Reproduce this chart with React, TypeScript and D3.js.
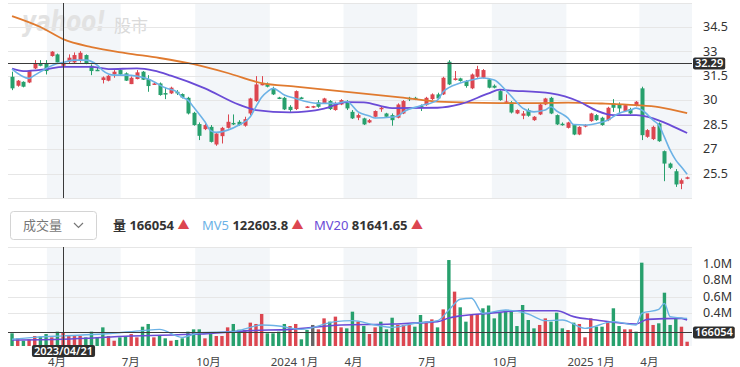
import React, { useEffect, useRef } from "react";
import * as d3 from "d3";

// weekly candles, first week 2023-02-17
const firstWeek = "2023-02-17";
const opens = [
  31.43, 30.88, 31.12, 31.08, 31.94, 32.25, 32.25, 32.7, 32.8, 32.1,
  32.35, 32.31, 32.4, 32.76, 32.1, 31.86, 31.23, 31.19, 31.57, 31.84,
  31.64, 30.98, 31.29, 31.74, 31.29, 31.0, 31.02, 30.43, 30.41, 30.51,
  30.37, 30.14, 29.22, 28.53, 28.22, 28.36, 27.28, 27.79, 28.3, 28.6,
  28.67, 28.43, 29.18, 29.94, 30.96, 31.0, 30.72, 30.16, 30.14, 29.59,
  29.45, 30.16, 29.57, 29.57, 29.86, 29.8, 29.94, 29.39, 29.73, 29.9,
  29.28, 28.92, 28.88, 28.63, 28.98, 29.45, 29.18, 29.08, 28.92, 29.18,
  30.14, 30.14, 29.63, 29.69, 30.06, 30.35, 30.35, 32.35, 31.23, 31.33,
  31.17, 30.72, 31.43, 31.37, 31.27, 30.88, 30.55, 29.88, 29.86, 29.18,
  29.04, 29.39, 28.77, 29.12, 29.73, 30.14, 29.08, 28.55, 28.3, 28.47,
  27.89, 28.38, 28.71, 29.08, 28.92, 28.77, 29.8, 29.73, 29.33, 29.45,
  29.65, 30.72, 27.75, 27.61, 28.57, 26.87, 26.11, 25.64, 24.87, 25.19,
];
const highs = [
  31.74, 31.23, 31.15, 31.84, 32.45, 32.45, 32.45, 33.0, 32.85, 32.4,
  32.8, 32.92, 33.0, 32.8, 32.19, 32.0, 31.45, 31.53, 31.84, 31.9,
  31.7, 31.45, 31.84, 31.78, 31.53, 31.08, 31.08, 30.76, 30.82, 30.61,
  30.41, 30.2, 29.28, 28.63, 28.57, 28.47, 28.02, 28.36, 29.12, 29.12,
  28.77, 28.98, 30.14, 31.47, 31.47, 31.08, 30.82, 30.2, 30.2, 29.69,
  30.59, 30.2, 29.63, 29.65, 30.0, 30.14, 30.0, 29.9, 30.06, 30.0,
  29.39, 29.18, 28.92, 28.84, 29.37, 29.63, 29.22, 29.18, 29.8, 30.0,
  30.2, 30.2, 29.73, 30.2, 30.41, 30.45, 31.43, 32.45, 31.78, 31.37,
  31.23, 31.63, 32.1, 31.9, 31.33, 30.96, 30.61, 30.35, 29.94, 29.43,
  29.33, 29.49, 29.02, 29.8, 30.14, 30.2, 29.12, 28.63, 28.67, 28.51,
  28.4, 28.53, 29.22, 29.14, 28.98, 29.59, 30.06, 29.86, 29.73, 29.53,
  29.94, 30.82, 28.22, 28.43, 28.63, 26.91, 26.17, 25.77, 25.19, 25.31,
];
const lows = [
  30.61, 30.82, 30.78, 31.04, 31.9, 32.07, 31.57, 32.66, 32.31, 31.7,
  32.25, 32.25, 32.3, 32.2, 31.53, 31.78, 31.02, 31.15, 31.37, 31.53,
  31.17, 30.98, 31.27, 31.23, 30.51, 30.96, 30.27, 30.06, 30.37, 30.31,
  30.1, 29.12, 28.43, 27.55, 28.16, 27.4, 27.2, 27.34, 28.26, 28.47,
  28.43, 28.37, 29.08, 29.9, 30.9, 30.78, 30.31, 30.06, 29.39, 29.28,
  29.39, 30.1, 29.51, 29.51, 29.53, 29.76, 29.39, 29.35, 29.69, 29.39,
  28.84, 28.77, 28.47, 28.59, 28.94, 29.28, 28.94, 28.43, 28.88, 29.14,
  29.94, 30.0, 29.33, 29.65, 30.0, 30.06, 30.31, 30.92, 31.2, 31.13,
  30.76, 30.67, 31.37, 31.33, 30.72, 30.72, 29.96, 29.82, 29.18, 29.14,
  28.83, 28.98, 28.73, 29.08, 29.69, 29.14, 28.47, 28.43, 28.26, 27.85,
  27.85, 28.33, 28.67, 28.73, 28.43, 28.71, 29.28, 29.18, 29.28, 29.14,
  29.61, 27.55, 27.69, 27.55, 27.44, 25.03, 25.77, 24.68, 24.54, 25.15,
];
const closes = [
  30.72, 31.19, 30.82, 31.78, 32.25, 32.1, 31.78, 32.97, 32.31, 32.29,
  32.6, 32.76, 32.9, 32.25, 31.78, 31.8, 31.39, 31.49, 31.74, 31.57,
  31.19, 31.37, 31.7, 31.25, 30.86, 31.02, 30.31, 30.39, 30.76, 30.41,
  30.16, 29.18, 28.47, 27.81, 28.47, 27.44, 27.95, 28.3, 28.67, 28.55,
  28.47, 28.83, 30.1, 30.96, 31.0, 30.82, 30.35, 30.1, 29.43, 29.39,
  30.55, 30.1, 29.61, 29.63, 29.59, 30.1, 29.45, 29.8, 30.0, 29.49,
  28.88, 29.08, 28.51, 28.77, 29.33, 29.53, 28.98, 28.77, 29.73, 29.94,
  30.06, 30.06, 29.55, 30.14, 30.35, 30.1, 31.37, 30.96, 31.33, 31.17,
  30.86, 31.57, 31.9, 31.84, 30.76, 30.76, 30.0, 29.92, 29.24, 29.39,
  29.18, 29.04, 28.98, 29.73, 30.1, 29.18, 28.51, 28.47, 28.63, 27.89,
  28.36, 28.47, 29.18, 28.77, 28.47, 29.53, 29.53, 29.49, 29.69, 29.18,
  29.9, 27.85, 28.16, 28.36, 27.48, 26.11, 25.85, 24.83, 25.09, 25.27,
];

// weekly volume, millions of shares
const volumes = [
  0.154, 0.093, 0.064, 0.081, 0.121, 0.113, 0.145, 0.105, 0.174, 0.166,
  0.121, 0.121, 0.121, 0.105, 0.174, 0.105, 0.226, 0.121, 0.064, 0.105,
  0.121, 0.145, 0.105, 0.234, 0.267, 0.105, 0.121, 0.093, 0.064, 0.073,
  0.093, 0.174, 0.202, 0.202, 0.093, 0.154, 0.121, 0.121, 0.226, 0.267,
  0.198, 0.194, 0.283, 0.267, 0.388, 0.154, 0.154, 0.174, 0.267, 0.242,
  0.267, 0.081, 0.194, 0.255, 0.202, 0.335, 0.295, 0.356, 0.226, 0.214,
  0.416, 0.295, 0.242, 0.145, 0.226, 0.295, 0.202, 0.343, 0.255, 0.255,
  0.255, 0.234, 0.376, 0.295, 0.323, 0.226, 0.444, 1.042, 0.659, 0.469,
  0.295, 0.376, 0.388, 0.457, 0.491, 0.335, 0.404, 0.428, 0.424, 0.242,
  0.497, 0.315, 0.214, 0.255, 0.335, 0.295, 0.404, 0.214, 0.194, 0.283,
  0.267, 0.105, 0.335, 0.234, 0.234, 0.295, 0.457, 0.242, 0.202, 0.202,
  0.174, 1.01, 0.396, 0.255, 0.275, 0.646, 0.255, 0.335, 0.234, 0.052,
];
// R = up, G = down, N = unchanged
const volDir = (
  "GRGRRGGRGR" + "RRRGGGGRRG" + "GRRGGRGGRG" + "GGGGRGRRRG" +
  "GRRRRGGGGR" + "RGGNRRGRRG" + "GRGRRGGGRR" + "RGGRRGRGRG" +
  "GRRGGGGGGG" + "GGGRRGGGRG" + "RRRGGRGGRR" + "GGRRGGGGRR"
).split("");

// moving averages (week index, value)
const ma5Idx = [0, 3, 4, 6, 8, 9, 11, 13, 15, 16, 18, 20, 22, 24, 25, 27, 29, 30, 31, 32, 34, 35, 36, 38, 40, 42, 43, 44, 45, 46, 48, 50, 52, 54, 57, 59, 61, 63, 64, 67, 68, 69, 72, 75, 76, 79, 81, 83, 85, 87, 89, 90, 92, 94, 95, 96, 97, 98, 99, 101, 103, 105, 107, 109, 110, 111, 113, 114, 115, 116, 117, 118, 119];
const ma5Val = [31.9, 31.33, 31.53, 31.94, 32.24, 32.31, 32.45, 32.45, 32.15, 31.81, 31.53, 31.53, 31.47, 31.29, 31.12, 30.75, 30.52, 30.18, 30.0, 29.57, 28.67, 28.13, 28.02, 28.16, 28.47, 28.98, 29.6, 30.18, 30.51, 30.72, 30.31, 30.1, 29.9, 29.8, 29.8, 29.91, 29.28, 29.02, 28.9, 28.96, 29.02, 29.28, 29.65, 30.0, 30.51, 31.04, 31.23, 31.35, 31.23, 30.61, 29.85, 29.51, 29.28, 29.39, 29.59, 29.33, 29.14, 28.9, 28.5, 28.47, 28.57, 28.77, 29.2, 29.39, 29.51, 29.39, 28.77, 28.47, 27.73, 26.93, 26.32, 25.9, 25.46];
const ma20Idx = [0, 2, 6, 9, 14, 17, 22, 25, 28, 34, 40, 43, 49, 55, 59, 62, 67, 75, 79, 84, 86, 87, 95, 100, 103, 106, 110, 113, 116, 119];
const ma20Val = [31.93, 31.78, 31.9, 32.04, 32.04, 31.9, 31.94, 31.81, 31.5, 30.72, 29.72, 29.39, 29.25, 29.48, 29.88, 29.86, 29.51, 29.53, 29.75, 30.41, 30.64, 30.61, 30.41, 29.9, 29.36, 29.08, 29.08, 28.88, 28.47, 27.98];
const ma60Idx = [0, 5, 9, 14, 20, 26, 32, 38, 44, 50, 56, 62, 68, 74, 80, 86, 92, 98, 104, 110, 114, 119];
const ma60Val = [35.15, 34.48, 33.74, 33.25, 32.88, 32.58, 32.2, 31.66, 31.04, 30.83, 30.61, 30.4, 30.18, 29.94, 29.85, 29.82, 29.82, 29.85, 29.79, 29.69, 29.57, 29.2];
const mv5Idx = [0, 4, 9, 16, 23, 26, 30, 33, 39, 42, 44, 47, 51, 57, 60, 64, 67, 71, 75, 77, 79, 81, 83, 87, 91, 94, 97, 101, 106, 110, 111, 114, 115, 116, 119];
const mv5Val = [0.081, 0.105, 0.123, 0.145, 0.186, 0.202, 0.105, 0.161, 0.174, 0.226, 0.255, 0.242, 0.202, 0.295, 0.307, 0.255, 0.226, 0.275, 0.307, 0.436, 0.566, 0.578, 0.396, 0.436, 0.388, 0.307, 0.315, 0.214, 0.295, 0.255, 0.396, 0.444, 0.517, 0.356, 0.335];
const mv20Idx = [0, 9, 21, 33, 42, 49, 58, 67, 75, 77, 79, 84, 90, 96, 99, 103, 110, 112, 118, 119];
const mv20Val = [0.073, 0.082, 0.121, 0.145, 0.186, 0.202, 0.255, 0.267, 0.295, 0.34, 0.365, 0.396, 0.428, 0.428, 0.356, 0.315, 0.267, 0.323, 0.335, 0.315];

const priceTicks = [34.5, 33, 31.5, 30, 28.5, 27, 25.5];
const volTicks = [0.4, 0.6, 0.8, 1.0];
const volTickLabels = ["0.4M", "0.6M", "0.8M", "1.0M"];
const monthTicks = ["2023-04-01", "2023-07-01", "2023-10-01", "2024-01-01", "2024-04-01", "2024-07-01", "2024-10-01", "2025-01-01", "2025-04-01"];
const monthLabels = ["4月", "7月", "10月", "2024 1月", "4月", "7月", "10月", "2025 1月", "4月"];
const shadedQuarters = [["2023-04-01", "2023-07-01"], ["2023-10-01", "2024-01-01"], ["2024-04-01", "2024-07-01"], ["2024-10-01", "2025-01-01"], ["2025-04-01", "2025-06-05"]];

const hoverIndex = 9;
const hoverDate = "2023/04/21";
const hoverPrice = 32.29;
const legendVol = "166054";
const legendMv5 = "122603.8";
const legendMv20 = "81641.65";

const RED = "#dc4650";
const GREEN = "#27a06d";
const BLUE = "#6cb2e6";
const PURPLE = "#6a4bd6";
const ORANGE = "#e07a2f";
const FONT = "'Noto Sans', 'Noto Sans CJK TC', sans-serif";

export default function App() {
  const svgRef = useRef(null);

  useEffect(() => {
    const svg = d3.select(svgRef.current);
    svg.selectAll("*").remove();

    const left = 8, right = 692;
    const pTop = 3, pBot = 198, vTop = 247, vBot = 346;
    const parse = d3.utcParse("%Y-%m-%d");
    const start = parse(firstWeek);
    const dates = closes.map((_, i) => d3.utcDay.offset(start, i * 7));

    const x = d3.scaleUtc().domain([parse("2023-02-12"), parse("2025-06-05")]).range([left, right]);
    const y = d3.scaleLinear().domain([24, 35.95]).range([pBot, pTop]);
    const yv = d3.scaleLinear().domain([0, 1.2]).range([vBot, vTop]);

    // shaded quarters
    shadedQuarters.forEach(([a, b]) => {
      const x0 = x(parse(a)), x1 = Math.min(right, x(parse(b)));
      [[pTop, pBot], [vTop, vBot]].forEach(([t, bt]) => {
        svg.append("rect").attr("x", x0).attr("y", t).attr("width", x1 - x0)
          .attr("height", bt - t).attr("fill", "#f3f6f9");
      });
    });

    // watermark
    svg.append("text").attr("x", 22).attr("y", 31).text("yahoo!")
      .attr("font-family", "'DejaVu Sans', sans-serif").attr("font-weight", 900)
      .attr("font-style", "italic").attr("font-size", 28).attr("fill", "#e2e2e2")
      .attr("textLength", 84).attr("lengthAdjust", "spacingAndGlyphs");
    svg.append("text").attr("x", 114).attr("y", 32).text("股市")
      .attr("font-family", FONT).attr("font-size", 17).attr("fill", "#dadada");

    // grid
    const grid = svg.append("g").attr("stroke", "#e6e6e6").attr("stroke-width", 1);
    [pTop, pBot, vTop].forEach((gy) => grid.append("line").attr("x1", left).attr("x2", right).attr("y1", gy + 0.5).attr("y2", gy + 0.5));
    priceTicks.forEach((t) => grid.append("line").attr("x1", left).attr("x2", right).attr("y1", Math.round(y(t)) + 0.5).attr("y2", Math.round(y(t)) + 0.5));
    volTicks.forEach((t) => grid.append("line").attr("x1", left).attr("x2", right).attr("y1", Math.round(yv(t)) + 0.5).attr("y2", Math.round(yv(t)) + 0.5));

    // right axis labels
    svg.append("g").selectAll("text").data(priceTicks).join("text")
      .attr("x", 703).attr("y", (d) => y(d)).attr("dy", "0.35em")
      .text((d) => String(d)).attr("font-family", FONT).attr("font-size", 12.5).attr("fill", "#333");
    svg.append("g").selectAll("text").data(volTicks).join("text")
      .attr("x", 703).attr("y", (d) => yv(d)).attr("dy", "0.35em")
      .text((d, i) => volTickLabels[i]).attr("font-family", FONT).attr("font-size", 12.5).attr("fill", "#333");

    // candles
    const cw = 4;
    const candles = svg.append("g");
    closes.forEach((c, i) => {
      const o = opens[i];
      const col = c >= o ? RED : GREEN;
      const cx = Math.round(x(dates[i]));
      candles.append("line").attr("x1", cx + 0.5).attr("x2", cx + 0.5)
        .attr("y1", y(highs[i])).attr("y2", y(lows[i])).attr("stroke", col).attr("stroke-width", 1);
      const top = y(Math.max(o, c));
      const h = Math.max(1.5, Math.abs(y(o) - y(c)));
      candles.append("rect").attr("x", cx + 0.5 - cw / 2).attr("y", top).attr("width", cw).attr("height", h).attr("fill", col);
    });

    // volume bars
    const bw = 3.4;
    svg.append("g").selectAll("rect").data(volumes).join("rect")
      .attr("x", (d, i) => x(dates[i]) - bw / 2)
      .attr("y", (d) => yv(d))
      .attr("width", bw)
      .attr("height", (d) => vBot - yv(d))
      .attr("fill", (d, i) => (volDir[i] === "R" ? RED : volDir[i] === "G" ? GREEN : "#666"));

    // moving averages
    const drawLine = (idx, vals, scale, color, w) => {
      const line = d3.line().x((d) => x(dates[d])).y((d, k) => scale(vals[k])).curve(d3.curveMonotoneX);
      svg.append("path").attr("d", line(idx)).attr("fill", "none").attr("stroke", color).attr("stroke-width", w);
    };
    drawLine(ma60Idx, ma60Val, y, ORANGE, 1.8);
    drawLine(ma20Idx, ma20Val, y, PURPLE, 1.8);
    drawLine(ma5Idx, ma5Val, y, BLUE, 1.6);
    drawLine(mv20Idx, mv20Val, yv, PURPLE, 1.6);
    drawLine(mv5Idx, mv5Val, yv, BLUE, 1.4);

    // crosshair
    const hx = Math.round(x(dates[hoverIndex])) + 0.5;
    const hy = Math.round(y(hoverPrice)) + 0.5;
    const hv = Math.round(yv(volumes[hoverIndex])) + 0.5;
    const ch = svg.append("g").attr("stroke", "#3a3a3a").attr("stroke-width", 1);
    ch.append("line").attr("x1", hx).attr("x2", hx).attr("y1", pTop).attr("y2", pBot);
    ch.append("line").attr("x1", hx).attr("x2", hx).attr("y1", vTop).attr("y2", vBot);
    ch.append("line").attr("x1", left).attr("x2", right).attr("y1", hy).attr("y2", hy);
    ch.append("line").attr("x1", left).attr("x2", right).attr("y1", hv).attr("y2", hv);

    // month labels
    svg.append("g").selectAll("text").data(monthTicks).join("text")
      .attr("x", (d) => x(parse(d)) + 1).attr("y", 365.5)
      .text((d, i) => monthLabels[i]).attr("font-family", FONT).attr("font-size", 11.5).attr("fill", "#444");

    // dark value tags sized to their text
    const tag = (tx, ty, label, anchor) => {
      const g = svg.append("g");
      const rect = g.append("rect").attr("rx", 2).attr("fill", "#2e2e2e");
      const t = g.append("text").attr("x", tx).attr("y", ty).attr("dy", "0.36em")
        .attr("text-anchor", anchor).text(label).attr("font-family", FONT)
        .attr("font-size", 11).attr("font-weight", 600).attr("fill", "#fff");
      const w = t.node().getComputedTextLength() + 4;
      const x0 = anchor === "middle" ? tx - w / 2 : tx - 2;
      rect.attr("x", x0).attr("y", ty - 6).attr("width", w).attr("height", 12);
    };
    tag(695, hy, hoverPrice.toFixed(2), "start");
    tag(695, hv, legendVol, "start");
    tag(hx, 351, hoverDate, "middle");

    // legend row
    svg.append("rect").attr("x", 10.5).attr("y", 211.5).attr("width", 86).attr("height", 28).attr("rx", 3)
      .attr("fill", "#fff").attr("stroke", "#d4d4d4");
    svg.append("text").attr("x", 23).attr("y", 230).text("成交量").attr("font-family", FONT)
      .attr("font-size", 13).attr("fill", "#777");
    svg.append("path").attr("d", "M74,223 L78.5,227.5 L83,223").attr("fill", "none").attr("stroke", "#777").attr("stroke-width", 1.2);

    const leg = svg.append("text").attr("y", 230).attr("font-family", FONT).attr("font-size", 13).attr("font-weight", 700);
    leg.append("tspan").attr("x", 113).attr("fill", "#333").text("量 ");
    leg.append("tspan").attr("fill", "#333").text(legendVol + " ");
    leg.append("tspan").attr("fill", RED).attr("font-size", 12).text("▲");
    const leg2 = svg.append("text").attr("y", 230).attr("font-family", FONT).attr("font-size", 13);
    leg2.append("tspan").attr("x", 202).attr("fill", BLUE).text("MV5 ");
    leg2.append("tspan").attr("fill", "#333").attr("font-weight", 700).text(legendMv5 + " ");
    leg2.append("tspan").attr("fill", RED).attr("font-size", 12).text("▲");
    const leg3 = svg.append("text").attr("y", 230).attr("font-family", FONT).attr("font-size", 13);
    leg3.append("tspan").attr("x", 314).attr("fill", PURPLE).text("MV20 ");
    leg3.append("tspan").attr("fill", "#333").attr("font-weight", 700).text(legendMv20 + " ");
    leg3.append("tspan").attr("fill", RED).attr("font-size", 12).text("▲");
  }, []);

  return (
    <svg
      ref={svgRef}
      width={740}
      height={367}
      style={{ position: "fixed", left: 0, top: 0, background: "#fff" }}
    />
  );
}
